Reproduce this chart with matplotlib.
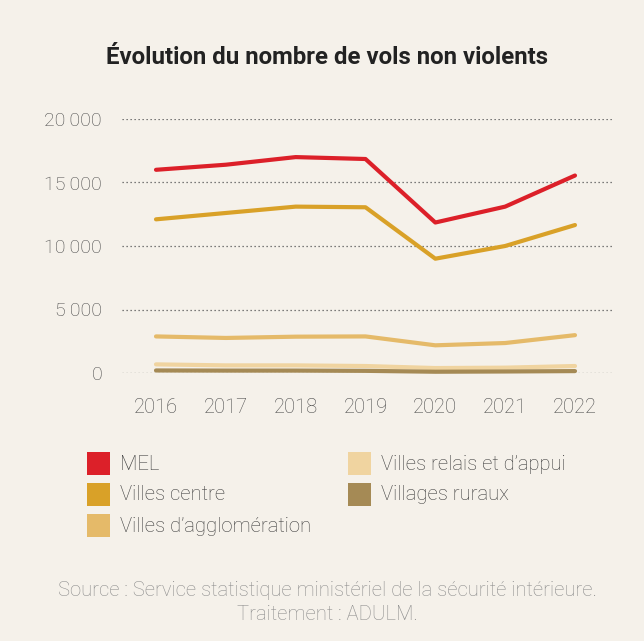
import matplotlib
matplotlib.use('Agg')
from matplotlib import pyplot as plt
from matplotlib.patches import Rectangle
from matplotlib.ticker import FuncFormatter

# Data
years = [2016, 2017, 2018, 2019, 2020, 2021, 2022]
mel = [16000, 16400, 17000, 16850, 11850, 13100, 15550]
villes_centre = [12100, 12600, 13100, 13050, 9000, 10000, 11650]
villes_agglo = [2880, 2760, 2860, 2880, 2180, 2360, 2980]
villes_relais = [680, 600, 600, 550, 390, 420, 550]
villages_ruraux = [200, 190, 190, 170, 100, 120, 150]

labels = ['MEL', 'Villes centre', 'Villes d\u2019agglomération',
          'Villes relais et d\u2019appui', 'Villages ruraux']
colors = ['#DC2029', '#D9A128', '#E5BA69', '#F0D4A0', '#A58A55']
series = [mel, villes_centre, villes_agglo, villes_relais, villages_ruraux]

W, H = 644, 641
BG = '#F5F1EA'
plt.rcParams['font.family'] = ['Roboto', 'DejaVu Sans']

fig = plt.figure(figsize=(W / 100, H / 100), dpi=100, facecolor=BG)
ax = fig.add_axes([121.5 / W, (H - 373) / H, (612 - 121.5) / W, (373 - 119) / H])
ax.set_facecolor(BG)

# Draw lines (bottom series last so they sit on top like the original)
order = [2, 1, 0, 3, 4]
for i in order:
    ax.plot(years, series[i], color=colors[i], lw=3, solid_capstyle='round',
            solid_joinstyle='round', clip_on=False, zorder=3 + order.index(i))

ax.set_xlim(2015.506, 2022.53)
ax.set_ylim(0, 20000)
ax.set_yticks([0, 5000, 10000, 15000, 20000])
ax.set_xticks(years)
ax.yaxis.set_major_formatter(FuncFormatter(
    lambda v, p: '{:,}'.format(int(v)).replace(',', '\u2009')))
ax.grid(axis='y', color='#555555', lw=0.9, linestyle=(0, (1, 2.2)))
ax.set_axisbelow(True)
for s in ax.spines.values():
    s.set_visible(False)
ax.tick_params(length=0, labelcolor='#4a4a4a')
ax.tick_params(axis='y', pad=14, labelsize=14)
ax.tick_params(axis='x', pad=18, labelsize=14.5)
for t in ax.get_xticklabels() + ax.get_yticklabels():
    t.set_fontweight('light')

# Title
fig.text(327.5 / W, 1 - 58 / H, '\u00c9volution du nombre de vols non violents',
         ha='center', va='center', fontsize=17.3, fontweight='bold', color='#222222')

# Legend, drawn by hand in two columns
legend_pos = [(87, 452), (87, 483), (87, 514), (348, 452), (348, 483)]
for (x, y), lab, c in zip(legend_pos, labels, colors):
    fig.add_artist(Rectangle((x / W, 1 - (y + 23) / H), 23 / W, 23 / H,
                             transform=fig.transFigure, color=c, lw=0))
    fig.text((x + 33) / W, 1 - (y + 12) / H, lab, ha='left', va='center',
             fontsize=14.6, fontweight='light', color='#3c3c3c')

# Source
fig.text(327 / W, 1 - 590 / H,
         'Source : Service statistique ministériel de la sécurité intérieure.',
         ha='center', va='center', fontsize=14.6, fontweight='light', color='#8c8c8c')
fig.text(327.5 / W, 1 - 614 / H, 'Traitement : ADULM.',
         ha='center', va='center', fontsize=14.6, fontweight='light', color='#8c8c8c')

fig.savefig('out.png', dpi=100, facecolor=BG)
